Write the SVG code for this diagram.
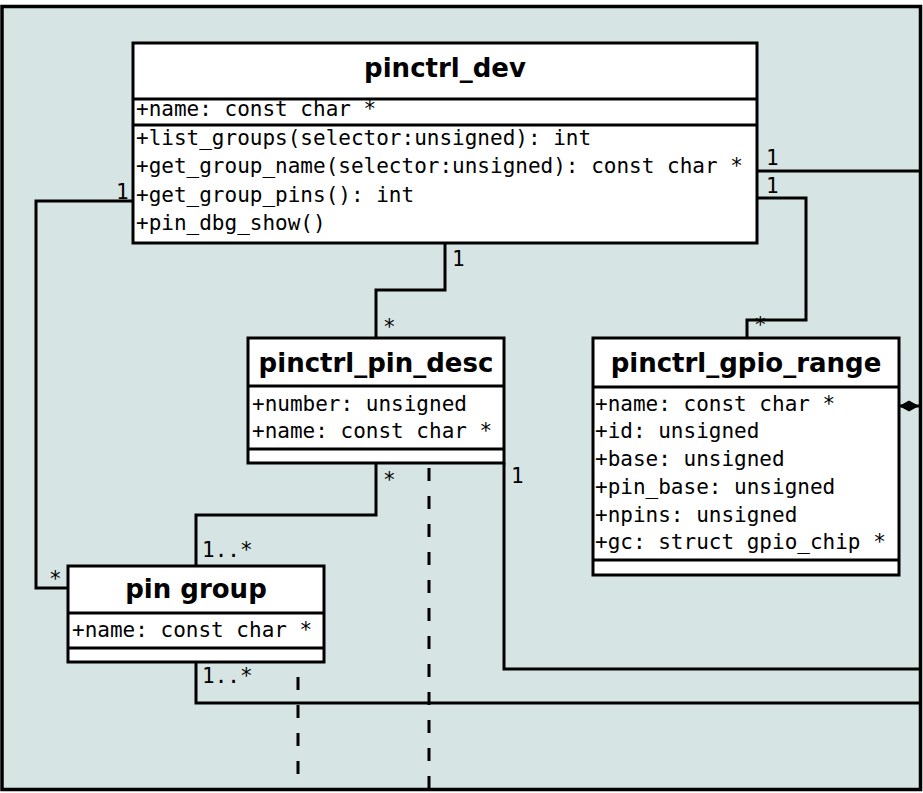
<svg xmlns="http://www.w3.org/2000/svg" width="923" height="793" viewBox="0 0 923 793">
  <style>
    .box { fill: #ffffff; stroke: #000000; stroke-width: 3; }
    .sep { stroke: #000000; stroke-width: 3; fill: none; }
    .title { font-family: "DejaVu Sans", "Liberation Sans", sans-serif; font-weight: bold; font-size: 26px; fill: #000000; text-anchor: middle; }
    .mono { font-family: "DejaVu Sans Mono", "Liberation Mono", monospace; font-size: 21px; fill: #000000; }
    .wire { fill: none; stroke: #000000; stroke-width: 3; }
    .dash { fill: none; stroke: #000000; stroke-width: 3; stroke-dasharray: 13 15; }
  </style>

  <!-- page and frame -->
  <rect x="0" y="0" width="923" height="793" fill="#ffffff"/>
  <rect x="2" y="6.5" width="918.5" height="783" fill="#d7e4e4" stroke="#000000" stroke-width="3.5"/>

  <!-- associations -->
  <g id="connectors">
    <path class="wire" d="M757,171 H920"/>
    <path class="wire" d="M757,198 H806 V320 H747 V338"/>
    <path class="wire" d="M133,201 H36 V588 H68"/>
    <path class="wire" d="M445,243 V290 H376 V338"/>
    <path class="wire" d="M376,463 V515 H196 V566"/>
    <path class="wire" d="M504,463 V669 H920"/>
    <path class="wire" d="M196,662 V703 H920"/>
    <path class="wire" d="M900,406 H920"/>
    <polygon points="900,406 909,401 918,406 909,411" fill="#000000" stroke="#000000" stroke-width="1"/>
    <path class="dash" d="M429,468 V790"/>
    <path class="dash" d="M298,677 V790"/>

    <text class="mono" x="766" y="165">1</text>
    <text class="mono" x="766" y="193">1</text>
    <text class="mono" x="754" y="332">*</text>
    <text class="mono" x="116" y="199">1</text>
    <text class="mono" x="49" y="586">*</text>
    <text class="mono" x="452" y="266">1</text>
    <text class="mono" x="383" y="334">*</text>
    <text class="mono" x="383" y="487">*</text>
    <text class="mono" x="202" y="557">1..*</text>
    <text class="mono" x="511" y="483">1</text>
    <text class="mono" x="202" y="683">1..*</text>
  </g>

  <!-- pinctrl_dev -->
  <g id="pinctrl_dev">
    <rect class="box" x="133" y="43" width="624" height="200"/>
    <path class="sep" d="M133,99 H757 M133,125 H757"/>
    <text class="title" x="445" y="77">pinctrl_dev</text>
    <text class="mono" x="136" y="116">+name: const char *</text>
    <text class="mono" x="136" y="145">+list_groups(selector:unsigned): int</text>
    <text class="mono" x="136" y="173">+get_group_name(selector:unsigned): const char *</text>
    <text class="mono" x="136" y="202">+get_group_pins(): int</text>
    <text class="mono" x="136" y="230">+pin_dbg_show()</text>
  </g>

  <!-- pinctrl_pin_desc -->
  <g id="pinctrl_pin_desc">
    <rect class="box" x="248" y="338" width="256" height="125"/>
    <path class="sep" d="M248,386 H504 M248,449 H504"/>
    <text class="title" x="376" y="372">pinctrl_pin_desc</text>
    <text class="mono" x="252" y="411">+number: unsigned</text>
    <text class="mono" x="252" y="438">+name: const char *</text>
  </g>

  <!-- pinctrl_gpio_range -->
  <g id="pinctrl_gpio_range">
    <rect class="box" x="593" y="338" width="306" height="237"/>
    <path class="sep" d="M593,387 H899 M593,560 H899"/>
    <text class="title" x="746" y="372">pinctrl_gpio_range</text>
    <text class="mono" x="595" y="411">+name: const char *</text>
    <text class="mono" x="595" y="438">+id: unsigned</text>
    <text class="mono" x="595" y="466">+base: unsigned</text>
    <text class="mono" x="595" y="494">+pin_base: unsigned</text>
    <text class="mono" x="595" y="522">+npins: unsigned</text>
    <text class="mono" x="595" y="549">+gc: struct gpio_chip *</text>
  </g>

  <!-- pin group -->
  <g id="pin_group">
    <rect class="box" x="68" y="566" width="256" height="96"/>
    <path class="sep" d="M68,613 H324 M68,648 H324"/>
    <text class="title" x="196" y="598">pin group</text>
    <text class="mono" x="72" y="637">+name: const char *</text>
  </g>
</svg>
